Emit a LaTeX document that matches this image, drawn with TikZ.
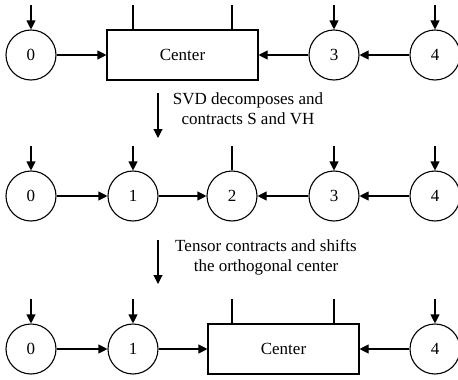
\documentclass[tikz,border=0pt]{standalone}
\usepackage{fontspec}
\setmainfont{Liberation Serif}
\usetikzlibrary{arrows.meta}
\begin{document}
\begin{tikzpicture}[x=1pt,y=-1pt,
  every node/.style={font=\fontsize{17}{20}\selectfont},
  site/.style={draw,circle,minimum size=50pt,inner sep=0pt,line width=1.1pt},
  centerbox/.style={draw,rectangle,minimum width=151pt,minimum height=50pt,inner sep=0pt,line width=1.1pt},
  conn/.style={line width=1.1pt,-{Triangle[length=9pt,width=9pt]}},
  leg/.style={line width=1.1pt}]
\useasboundingbox (0,0) rectangle (458,380);
% Row 1
\node[site] (a0) at (31,55) {0};
\node[centerbox] (ac) at (182.5,55) {Center};
\node[site] (a3) at (334,55) {3};
\node[site] (a4) at (435,55) {4};
\coordinate (ta0) at (31,5);
\coordinate (tac1) at (133,5);
\coordinate (tac2) at (232,5);
\coordinate (ta3) at (334,5);
\coordinate (ta4) at (435,5);
\draw[conn] (ta0) -- (a0);
\draw[leg] (tac1) -- (tac1 |- ac.north);
\draw[leg] (tac2) -- (tac2 |- ac.north);
\draw[conn] (ta3) -- (a3);
\draw[conn] (ta4) -- (a4);
\draw[conn] (a0) -- (ac);
\draw[conn] (a3) -- (ac);
\draw[conn] (a4) -- (a3);
% transition 1
\coordinate (s1) at (158,93);
\coordinate (e1) at (158,138);
\draw[conn] (s1) -- (e1);
\node[align=center] (t1) at (248,109) {SVD decomposes and\\contracts S and VH};
% Row 2
\node[site] (b0) at (31,196) {0};
\node[site] (b1) at (133,196) {1};
\node[site] (b2) at (232,196) {2};
\node[site] (b3) at (334,196) {3};
\node[site] (b4) at (435,196) {4};
\coordinate (tb0) at (31,146);
\coordinate (tb1) at (133,146);
\coordinate (tb2) at (232,146);
\coordinate (tb3) at (334,146);
\coordinate (tb4) at (435,146);
\draw[conn] (tb0) -- (b0);
\draw[conn] (tb1) -- (b1);
\draw[leg] (tb2) -- (b2);
\draw[conn] (tb3) -- (b3);
\draw[conn] (tb4) -- (b4);
\draw[conn] (b0) -- (b1);
\draw[conn] (b1) -- (b2);
\draw[conn] (b3) -- (b2);
\draw[conn] (b4) -- (b3);
% transition 2
\coordinate (s2) at (158,240);
\coordinate (e2) at (158,284);
\draw[conn] (s2) -- (e2);
\node[align=center] (t2) at (266,257) {Tensor contracts and shifts\\the orthogonal center};
% Row 3
\node[site] (c0) at (31,349) {0};
\node[site] (c1) at (133,349) {1};
\node[centerbox] (cc) at (283.5,349) {Center};
\node[site] (c4) at (435,349) {4};
\coordinate (tc0) at (31,299);
\coordinate (tc1) at (133,299);
\coordinate (tcc1) at (232,299);
\coordinate (tcc2) at (334,299);
\coordinate (tc4) at (435,299);
\draw[conn] (tc0) -- (c0);
\draw[conn] (tc1) -- (c1);
\draw[leg] (tcc1) -- (tcc1 |- cc.north);
\draw[leg] (tcc2) -- (tcc2 |- cc.north);
\draw[conn] (tc4) -- (c4);
\draw[conn] (c0) -- (c1);
\draw[conn] (c1) -- (cc);
\draw[conn] (c4) -- (cc);
\end{tikzpicture}
\end{document}
